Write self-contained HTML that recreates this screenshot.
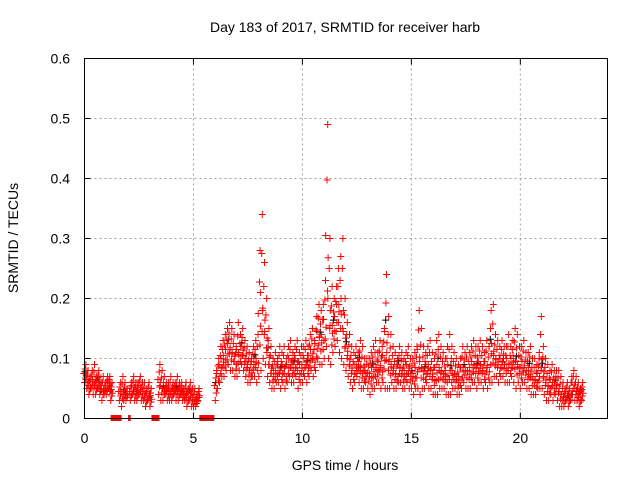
<!DOCTYPE html>
<html><head><meta charset="utf-8"><style>
body{margin:0;background:#fff}
svg{display:block;font-family:"Liberation Sans",sans-serif}
</style></head><body>
<svg id="chart" width="640" height="480" viewBox="0 0 640 480" xmlns="http://www.w3.org/2000/svg">
<rect width="640" height="480" fill="#fff"/>
<text x="345" y="32" font-size="14" text-anchor="middle">Day 183 of 2017, SRMTID for receiver harb</text>
<text x="345" y="470" font-size="14" text-anchor="middle">GPS time / hours</text>
<text transform="translate(18,238) rotate(-90)" font-size="14" text-anchor="middle">SRMTID / TECUs</text>
<g id="grid"></g>
<g id="ticks"></g>
<g id="marks"></g>
<rect x="84.5" y="58.5" width="523" height="360" fill="none" stroke="#000"/>
</svg>
<script>
const startHour = 0, stepHour = 0.1;
const lowVals = [.06,.05,.04,.05,.04,.04,.05,.04,.03,.04,.04,.05,.03,null,null,null,
.03,.02,.03,.03,null,
.03,.04,.03,.03,.04,.03,.03,.02,.03,.02,null,null,null,
.04,.03,.03,.04,.03,.03,.03,.04,.03,.03,.04,.03,.03,.02,.03,.02,.02,.02,.03,
null,null,null,null,null,null,null,
.03,.05,.06,.07,.07,.08,.09,.08,.08,.07,
.07,.08,.09,.08,.07,.06,.06,.07,.07,.06,
.07,.08,.10,.09,.07,.06,.05,.05,.06,.06,
.05,.06,.05,.06,.07,.06,.06,.07,.05,.06,
.06,.07,.06,.07,.08,.07,.08,.10,.09,.09,
.10,.12,.10,.09,.11,.12,.13,.11,.10,.09,
.08,.07,.06,.05,.06,.07,.06,.05,.05,.06,
.05,.04,.05,.05,.06,.06,.05,.06,.05,.05,
.05,.06,.05,.05,.06,.06,.05,.05,.06,.05,
.05,.04,.05,.05,.04,.05,.05,.06,.05,.05,
.04,.04,.04,.05,.05,.05,.04,.04,.04,.05,
.05,.04,.04,.05,.06,.05,.05,.05,.06,.06,
.05,.06,.06,.05,.06,.05,.06,.06,.07,.07,
.06,.07,.07,.06,.06,.06,.07,.06,.05,.06,
.05,.06,.06,.05,.05,.04,.04,.04,.05,.05,
.05,.04,.03,.03,.04,.03,.04,.03,.02,.02,
.02,.03,.02,.03,.04,.03,.03,.02,.03];
const highVals = [.09,.08,.07,.08,.09,.07,.08,.06,.07,.06,.07,.07,.06,null,null,null,
.06,.07,.06,.05,null,
.06,.07,.06,.06,.07,.06,.06,.05,.06,.05,null,null,null,
.09,.08,.07,.06,.06,.07,.06,.06,.07,.06,.06,.05,.06,.05,.06,.05,.05,.04,.05,
null,null,null,null,null,null,null,
.08,.10,.12,.13,.14,.15,.16,.15,.14,.12,
.16,.14,.15,.13,.12,.11,.10,.12,.13,.14,
.28,.34,.26,.20,.15,.12,.10,.11,.10,.12,
.11,.12,.10,.12,.13,.11,.12,.13,.11,.12,
.12,.13,.12,.14,.15,.13,.17,.19,.18,.19,
.23,.49,.30,.22,.20,.22,.25,.27,.30,.20,
.16,.14,.12,.11,.12,.11,.13,.12,.10,.10,
.10,.11,.12,.13,.11,.13,.12,.15,.24,.17,
.14,.12,.11,.10,.12,.11,.10,.11,.12,.10,
.10,.11,.12,.18,.15,.12,.11,.12,.13,.11,
.10,.13,.14,.12,.11,.10,.12,.14,.12,.11,
.10,.09,.10,.12,.11,.12,.11,.12,.13,.12,
.12,.13,.12,.11,.13,.12,.18,.19,.14,.13,
.12,.13,.12,.12,.14,.12,.13,.15,.14,.12,
.12,.13,.11,.11,.12,.10,.10,.09,.10,.17,
.12,.10,.09,.08,.09,.08,.08,.08,.07,.06,
.05,.06,.05,.07,.08,.07,.06,.05,.06];
const gapStarts = [1.2, 2.0, 3.07, 5.27];
const gapEnds = [1.7, 2.12, 3.44, 5.96];
const xTicks = [0,5,10,15,20];
const yTicks = [0,0.1,0.2,0.3,0.4,0.5,0.6];
const yTickLabels = ["0","0.1","0.2","0.3","0.4","0.5","0.6"];

const X0=84.5, X1=607.5, Y0=418.5, Y1=58.5;
const xs = h => X0 + (h-0)/(24-0)*(X1-X0);
const ys = v => Y0 - (v-0)/(0.6-0)*(Y0-Y1);
const NS="http://www.w3.org/2000/svg";
function mk(tag, attrs, parent){const e=document.createElementNS(NS,tag);for(const k in attrs)e.setAttribute(k,attrs[k]);parent.appendChild(e);return e;}
const grid=document.getElementById('grid'), ticks=document.getElementById('ticks'), marks=document.getElementById('marks');
xTicks.forEach(t=>{
  const x=xs(t);
  if(t>0){const g=mk('line',{x1:x,x2:x,y1:Y1,y2:Y0,stroke:'#a0a0a0','stroke-dasharray':'2,3'},grid);
  
  }
  mk('line',{x1:x,x2:x,y1:Y0,y2:Y0-6,stroke:'#000'},ticks);
  mk('line',{x1:x,x2:x,y1:Y1,y2:Y1+6,stroke:'#000'},ticks);
  const l=mk('text',{x:x,y:443,'font-size':14,'text-anchor':'middle'},ticks);l.textContent=t;
  
  
});
yTicks.forEach((t,i)=>{
  const y=ys(t);
  if(t>0&&t<0.6){const g=mk('line',{x1:X0,x2:X1,y1:y,y2:y,stroke:'#a0a0a0','stroke-dasharray':'2,3'},grid);
  
  }
  mk('line',{x1:X0,x2:X0+6,y1:y,y2:y,stroke:'#000'},ticks);
  mk('line',{x1:X1,x2:X1-6,y1:y,y2:y,stroke:'#000'},ticks);
  const l=mk('text',{x:70,y:y+5,'font-size':14,'text-anchor':'end'},ticks);l.textContent=yTickLabels[i];
  
  
});
let red='', blk='';
const plus=(h,v)=>{const x=xs(h),y=ys(v);return `M${(x-3.5).toFixed(1)} ${y.toFixed(1)}h7M${x.toFixed(1)} ${(y-3.5).toFixed(1)}v7`;};
lowVals.forEach((a,i)=>{
  const b=highVals[i]; if(a==null||b==null) return;
  const h=startHour+i*stepHour;
  const fr=[0,0.25,0.5,0.75,1], dx=[0,0.05,-0.03,0.03,0.06];
  fr.forEach((f,j)=>{ red+=plus(h+dx[j], a+(b-a)*f); });
  red+=plus(h+0.08, a+(b-a)*0.4);
  if(i%6===0) blk+=plus(h+0.02, a+(b-a)*0.6);
});
const bp=mk('path',{d:blk,stroke:'#000',fill:'none','stroke-width':1},marks);


const rp=mk('path',{d:red,stroke:'#f00',fill:'none','stroke-width':1},marks);


gapStarts.forEach((s,i)=>{
  const r=mk('rect',{x:xs(s),y:415,width:xs(gapEnds[i])-xs(s),height:6,fill:'#f00'},marks);
  
  
});
</script>
</body></html>
